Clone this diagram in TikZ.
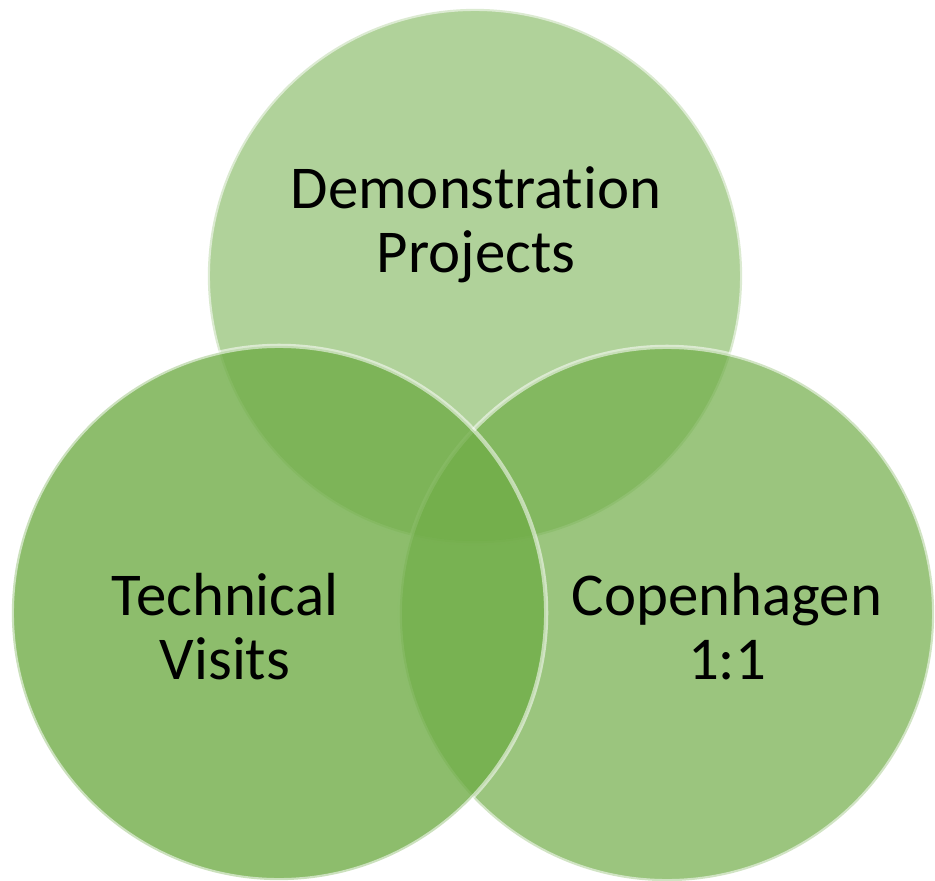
\documentclass[tikz,border=0pt]{standalone}
\usepackage{fontspec}
\setmainfont{Carlito}[Ligatures=NoCommon]
\usepackage{xcolor}
\definecolor{mygreen}{RGB}{112,173,71}
\usepackage{tikz}

\begin{document}
\begin{tikzpicture}[x=0.01cm,y=-0.01cm,line cap=round]
	\tikzstyle{disc}=[circle,minimum size=5.34cm,inner sep=0pt,fill=mygreen,draw=white,draw opacity=.55,line width=1.2pt];
	\tikzstyle{lab}=[align=center,inner sep=0pt,font=\fontsize{17.3pt}{18.2pt}\selectfont];
	\useasboundingbox (0,0) rectangle (935,881);
	\node[disc,fill opacity=.55] (demo) at (475,276) {};
	\node[disc,fill opacity=.70] (cph)  at (667,614) {};
	\node[disc,fill opacity=.80] (tech) at (279,613) {};
	% labels
	\node[lab] (demolab) at (476,225) {Demonstration\\Projects};
	\node[lab] (techlab) at (225,627) {Technical\\Visits};
	\node[lab] (cphlab)  at (727,627) {Copenhagen\\1:1};
\end{tikzpicture}
\end{document}
